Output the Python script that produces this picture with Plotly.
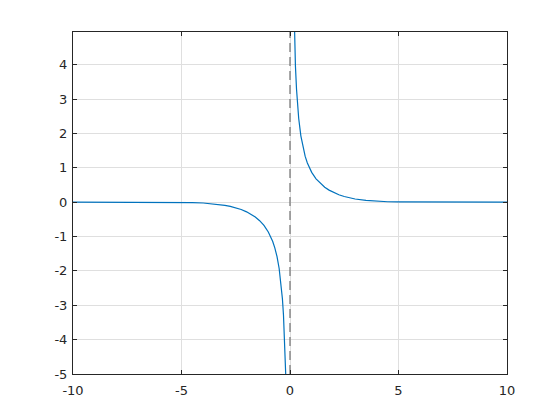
import plotly.graph_objects as go

# Right branch (x > 0)
x_right = [0.15, 0.2, 0.25, 0.3, 0.35, 0.4, 0.5, 0.6, 0.7, 0.8, 0.9, 1.0, 1.2, 1.4, 1.6, 1.8, 2.0, 2.25, 2.5, 2.75, 3.0, 3.5, 4.0, 4.5, 5.0, 6.0, 7.0, 8.0, 9.0, 10.0]
y_right = [6.64, 4.97, 3.96, 3.29, 2.81, 2.44, 1.93, 1.58, 1.33, 1.14, 0.99, 0.867, 0.678, 0.540, 0.434, 0.350, 0.282, 0.214, 0.164, 0.124, 0.092, 0.050, 0.025, 0.012, 0.0056, 0.001, 0.0002, 0.0, 0.0, 0.0]

# Left branch (x < 0)
x_left = [-10.0, -9.0, -8.0, -7.0, -6.0, -5.0, -4.5, -4.0, -3.5, -3.0, -2.75, -2.5, -2.25, -2.0, -1.8, -1.6, -1.4, -1.2, -1.0, -0.9, -0.8, -0.7, -0.6, -0.5, -0.4, -0.35, -0.3, -0.25, -0.2, -0.15]
y_left = [0.0, 0.0, 0.0, -0.0002, -0.001, -0.0056, -0.012, -0.025, -0.050, -0.092, -0.124, -0.164, -0.214, -0.282, -0.350, -0.434, -0.540, -0.678, -0.867, -0.99, -1.14, -1.33, -1.58, -1.93, -2.44, -2.81, -3.29, -3.96, -4.97, -6.64]

# Asymptote
asym_x = [0.0, 0.0]
asym_y = [-5.0, 4.95]

x_ticks = [-10, -5, 0, 5, 10]
x_tick_labels = ["-10", "-5", "0", "5", "10"]
y_ticks = [-5, -4, -3, -2, -1, 0, 1, 2, 3, 4]
y_tick_labels = ["-5", "-4", "-3", "-2", "-1", "0", "1", "2", "3", "4"]

blue = "#0072BD"

fig = go.Figure()
fig.add_trace(go.Scatter(x=asym_x, y=asym_y, mode="lines",
                         line=dict(color="#707070", width=1.2, dash="9px,5px"),
                         hoverinfo="skip"))
fig.add_trace(go.Scatter(x=x_left, y=y_left, mode="lines",
                         line=dict(color=blue, width=1.2)))
fig.add_trace(go.Scatter(x=x_right, y=y_right, mode="lines",
                         line=dict(color=blue, width=1.2)))

axis_common = dict(
    automargin=False,
    showline=True, linecolor="#262626", linewidth=1, mirror="ticks",
    ticks="inside", ticklen=4, tickcolor="#262626", tickwidth=1,
    showgrid=True, gridcolor="#dfdfdf", gridwidth=1,
    zeroline=False,
    tickfont=dict(family="DejaVu Sans", size=13, color="#262626"),
)

fig.update_layout(
    width=560, height=420,
    margin=dict(l=65, r=61, t=24, b=54),
    paper_bgcolor="white", plot_bgcolor="white",
    showlegend=False,
    xaxis=dict(range=[-10, 10], tickvals=x_ticks, ticktext=x_tick_labels, ticklabelstandoff=4, **axis_common),
    yaxis=dict(range=[-5, 4.95], tickvals=y_ticks, ticktext=y_tick_labels, ticklabelstandoff=2, **axis_common),
)

fig.write_html("out.html")
